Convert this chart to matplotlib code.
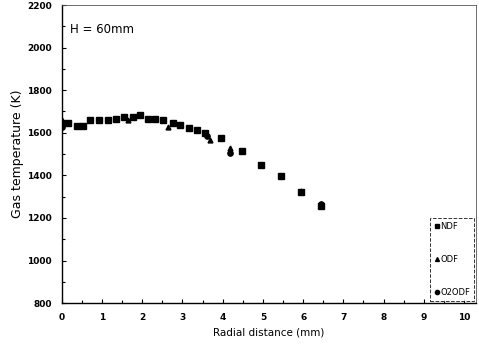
import matplotlib
matplotlib.use("Agg")
import matplotlib.pyplot as plt
from matplotlib.ticker import MultipleLocator

plt.rcParams['font.family'] = ['Liberation Sans Narrow', 'DejaVu Sans']

# radial profiles of gas temperature, H = 60 mm
ndf_r = [0.0, 0.15, 0.37, 0.53, 0.70, 0.93, 1.15, 1.35, 1.55, 1.77, 1.94, 2.15,
         2.31, 2.52, 2.77, 2.94, 3.15, 3.35, 3.56, 3.97, 4.47, 4.95, 5.45, 5.95, 6.45]
ndf_t = [1645, 1645, 1632, 1632, 1660, 1660, 1660, 1667, 1674, 1674, 1685, 1667,
         1664, 1660, 1645, 1637, 1622, 1614, 1598, 1575, 1515, 1448, 1398, 1320, 1258]
odf_r = [0.0, 1.65, 2.64, 3.68, 4.18, 5.95]
odf_t = [1662, 1660, 1629, 1567, 1527, 1325]
o2odf_r = [0.0, 3.62, 4.18, 6.45]
o2odf_t = [1625, 1585, 1505, 1265]

fig = plt.figure(figsize=(4.79, 3.6), dpi=100)
ax = fig.add_axes([0.129, 0.158, 0.865, 0.828])

ax.plot(ndf_r, ndf_t, 's', color='black', markersize=3.8, label='NDF')
ax.plot(odf_r, odf_t, '^', color='black', markersize=3.5, label='ODF')
ax.plot(o2odf_r, o2odf_t, 'o', color='black', markersize=3.8, label='O2ODF')

ax.set_xlim(0, 10.3)
ax.set_ylim(800, 2200)
ax.xaxis.set_major_locator(MultipleLocator(1))
ax.xaxis.set_minor_locator(MultipleLocator(0.5))
ax.yaxis.set_major_locator(MultipleLocator(200))
ax.yaxis.set_minor_locator(MultipleLocator(100))
ax.tick_params(which='both', direction='in', labelsize=6.5, width=0.8)
ax.tick_params(which='major', length=3, pad=7)
ax.tick_params(which='minor', length=2)
for lab in ax.get_xticklabels() + ax.get_yticklabels():
    lab.set_fontweight('bold')

for side in ['top', 'right']:
    ax.spines[side].set_linewidth(0.6)
    ax.spines[side].set_color('#555555')
for side in ['left', 'bottom']:
    ax.spines[side].set_linewidth(1.0)

ax.set_xlabel('Radial distance (mm)', fontsize=7.5, labelpad=4)
ax.set_ylabel('Gas temperature (K)', fontsize=9, labelpad=2)
ax.text(0.2, 2070, 'H = 60mm', fontsize=8.5)

leg = ax.legend(loc='lower right', fontsize=6, frameon=True, fancybox=False,
                handletextpad=0.1, handlelength=0.7, labelspacing=2.9,
                borderpad=0.5, borderaxespad=0.2, markerscale=0.8)
leg.get_frame().set_edgecolor('black')
leg.get_frame().set_linestyle('--')
leg.get_frame().set_linewidth(0.7)

fig.savefig('out.png', dpi=100)
